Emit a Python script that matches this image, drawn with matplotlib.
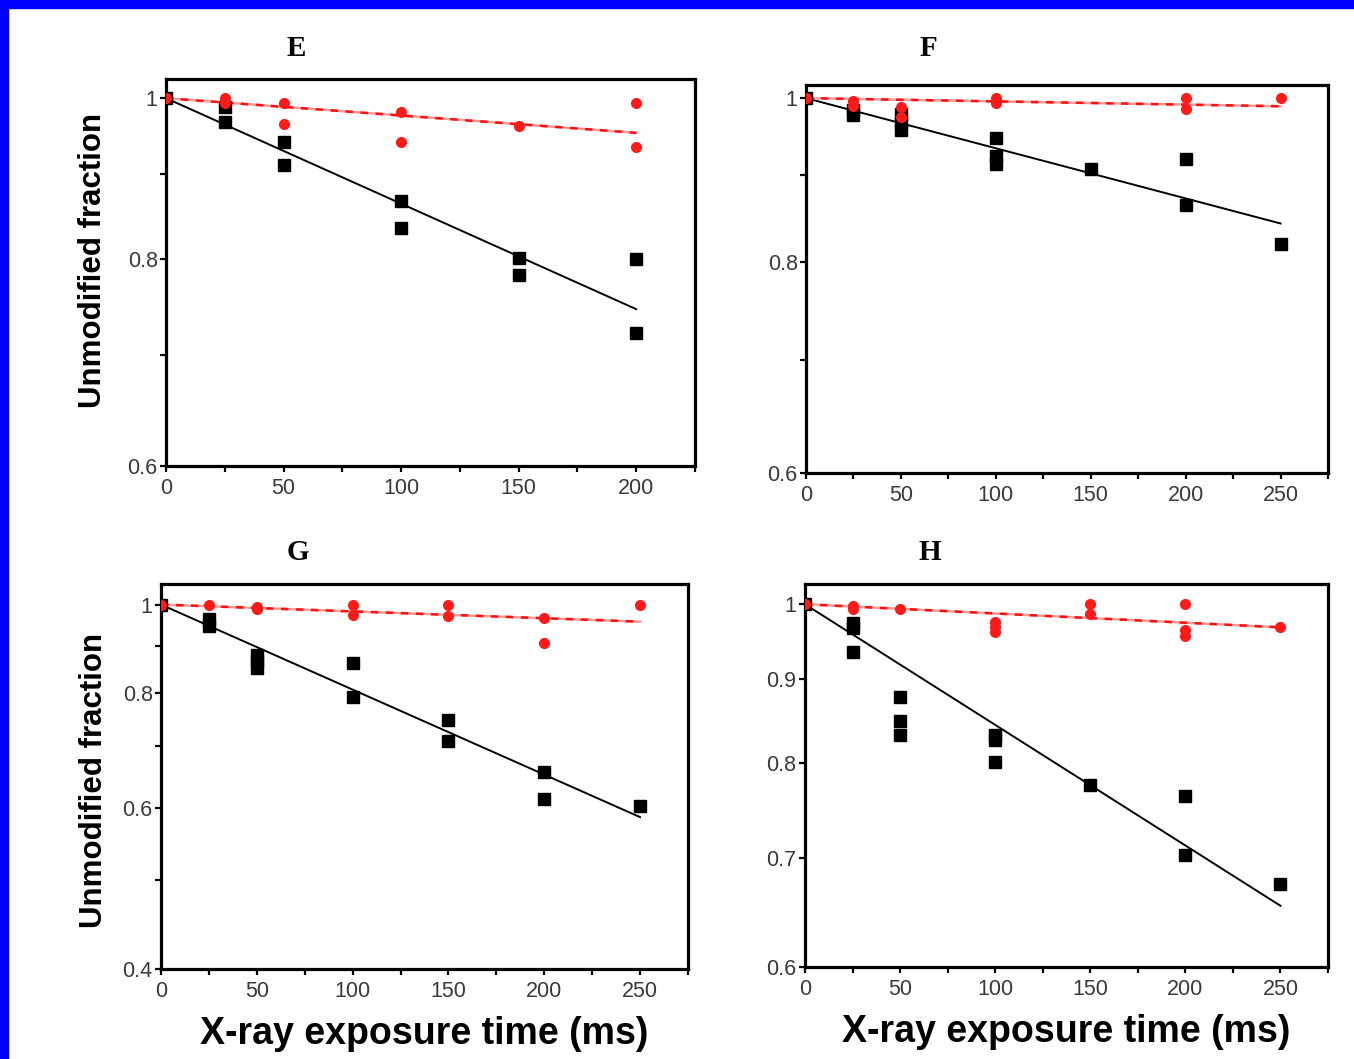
import matplotlib.pyplot as plt
from matplotlib.patches import Rectangle
from matplotlib.ticker import FixedLocator, FixedFormatter, NullFormatter

plt.rcParams['font.family'] = ['Liberation Sans', 'DejaVu Sans']

# Panel E
e_t_black = [0, 25, 25, 50, 50, 100, 100, 150, 150, 200, 200]
e_black = [1.0, 0.988, 0.967, 0.941, 0.912, 0.867, 0.835, 0.801, 0.782, 0.800, 0.722]
e_t_red = [0, 25, 25, 50, 50, 100, 100, 150, 200, 200]
e_red = [1.0, 1.0, 0.993, 0.993, 0.965, 0.981, 0.941, 0.962, 0.994, 0.934]
e_fit = [1.0, 0.746]      # black fit at t=0 and at end
e_fit_red = [1.0, 0.953]

# Panel F
f_t_black = [0, 25, 25, 50, 50, 50, 100, 100, 100, 150, 200, 200, 250]
f_black = [1.0, 0.984, 0.977, 0.978, 0.967, 0.957, 0.947, 0.924, 0.914, 0.908, 0.921, 0.864, 0.820]
f_t_red = [0, 25, 25, 50, 50, 100, 100, 100, 200, 200, 250]
f_red = [1.0, 0.996, 0.990, 0.988, 0.974, 1.0, 0.996, 0.993, 1.0, 0.985, 1.0]
f_fit = [1.0, 0.843]
f_fit_red = [1.0, 0.989]

# Panel G
g_t_black = [0, 25, 25, 50, 50, 50, 100, 100, 150, 150, 200, 200, 250]
g_black = [1.0, 0.965, 0.948, 0.882, 0.867, 0.852, 0.864, 0.793, 0.748, 0.709, 0.657, 0.613, 0.603]
g_t_red = [0, 25, 50, 50, 100, 100, 150, 150, 200, 200, 250]
g_red = [1.0, 0.999, 0.993, 0.988, 1.0, 0.975, 0.998, 0.972, 0.966, 0.909, 1.0]
g_fit = [1.0, 0.586]
g_fit_red = [1.0, 0.958]

# Panel H
h_t_black = [0, 25, 25, 25, 50, 50, 50, 100, 100, 100, 150, 200, 200, 250]
h_black = [1.0, 0.974, 0.967, 0.935, 0.877, 0.848, 0.832, 0.832, 0.826, 0.801, 0.775, 0.763, 0.702, 0.674]
h_t_red = [0, 25, 25, 50, 100, 100, 100, 150, 150, 200, 200, 200, 250]
h_red = [1.0, 0.998, 0.993, 0.993, 0.975, 0.969, 0.962, 1.0, 0.986, 1.0, 0.965, 0.956, 0.969]
h_fit = [1.0, 0.654]
h_fit_red = [1.0, 0.968]

panels = [
    dict(name='E', rect=[0.1226, 0.5600, 0.3907, 0.3654], title_xy=(296, 48), xmax=225, fit_t=[0, 200],
         ylim=(0.6, 1.027), yticks=[0.6, 0.8, 1.0], ylabels=['0.6', '0.8', '1'], yminor=[0.7, 0.9],
         ylab_xy=(-0.110, 0.53),
         tb=e_t_black, b=e_black, tr=e_t_red, r=e_red, fb=e_fit, fr=e_fit_red),
    dict(name='F', rect=[0.5953, 0.5533, 0.3855, 0.3664], title_xy=(928, 48), xmax=275, fit_t=[0, 250],
         ylim=(0.6, 1.018), yticks=[0.6, 0.8, 1.0], ylabels=['0.6', '0.8', '1'], yminor=[0.7, 0.9],
         ylab_xy=None,
         tb=f_t_black, b=f_black, tr=f_t_red, r=f_red, fb=f_fit, fr=f_fit_red),
    dict(name='G', rect=[0.1189, 0.0850, 0.3892, 0.3635], title_xy=(298, 552), xmax=275, fit_t=[0, 250],
         ylim=(0.4, 1.053), yticks=[0.4, 0.6, 0.8, 1.0], ylabels=['0.4', '0.6', '0.8', '1'],
         yminor=[0.5, 0.7, 0.9], ylab_xy=(-0.098, 0.49),
         tb=g_t_black, b=g_black, tr=g_t_red, r=g_red, fb=g_fit, fr=g_fit_red),
    dict(name='H', rect=[0.5945, 0.0869, 0.3863, 0.3617], title_xy=(930, 552), xmax=275, fit_t=[0, 250],
         ylim=(0.6, 1.029), yticks=[0.6, 0.7, 0.8, 0.9, 1.0],
         ylabels=['0.6', '0.7', '0.8', '0.9', '1'], yminor=[], ylab_xy=None,
         tb=h_t_black, b=h_black, tr=h_t_red, r=h_red, fb=h_fit, fr=h_fit_red),
]

W, H = 1354, 1059
fig = plt.figure(figsize=(W / 100, H / 100), dpi=100)

for p in panels:
    ax = fig.add_axes(p['rect'])
    ax.set_yscale('log')
    ax.plot(p['fit_t'], p['fb'], color='black', lw=1.4, zorder=2)
    ax.plot(p['fit_t'], p['fr'], color='#ff9a9a', lw=1.8, zorder=3)
    ax.plot(p['fit_t'], p['fr'], color='#ff1010', lw=1.8, ls=(0, (3, 3)), zorder=3)
    ax.plot(p['tb'], p['b'], 's', color='black', ms=8, zorder=4)
    ax.plot(p['tr'], p['r'], 'o', color='#ff1a1a', ms=8, mec='none', zorder=5)

    ax.set_xlim(0, p['xmax'])
    ax.set_ylim(*p['ylim'])
    ax.xaxis.set_major_locator(FixedLocator(list(range(0, p['xmax'] - 20, 50))))
    ax.xaxis.set_minor_locator(FixedLocator(list(range(25, p['xmax'] + 1, 50))))
    ax.yaxis.set_major_locator(FixedLocator(p['yticks']))
    ax.yaxis.set_major_formatter(FixedFormatter(p['ylabels']))
    ax.yaxis.set_minor_locator(FixedLocator(p['yminor']))
    ax.yaxis.set_minor_formatter(NullFormatter())

    for s in ax.spines.values():
        s.set_linewidth(2.3)
    ax.tick_params(which='both', direction='out', length=4.5, width=1.6,
                   labelsize=15.5, labelcolor='#3a3a3a')
    ax.tick_params(axis='x', which='both', pad=4)
    ax.tick_params(axis='y', which='both', pad=1.5)

    tx, ty = p['title_xy']
    fig.text(tx / W, 1 - ty / H, p['name'], fontsize=21, fontweight='bold',
             family=['Liberation Serif', 'DejaVu Serif'], ha='center', va='center')

    if p['ylab_xy'] is not None:
        ax.set_ylabel('Unmodified fraction', fontsize=22.5, fontweight='bold')
        ax.yaxis.set_label_coords(*p['ylab_xy'])
    if p['name'] in ('G', 'H'):
        ax.set_xlabel('X-ray exposure time (ms)', fontsize=27, fontweight='bold', labelpad=10)

# blue frame along the left and top edges
fig.patches.append(Rectangle((0, 0), 8 / W, 1, transform=fig.transFigure,
                             color='#0000ff', zorder=10))
fig.patches.append(Rectangle((0, 1 - 8 / H), 1, 8 / H, transform=fig.transFigure,
                             color='#0000ff', zorder=10))

fig.savefig('out.png', dpi=100)
